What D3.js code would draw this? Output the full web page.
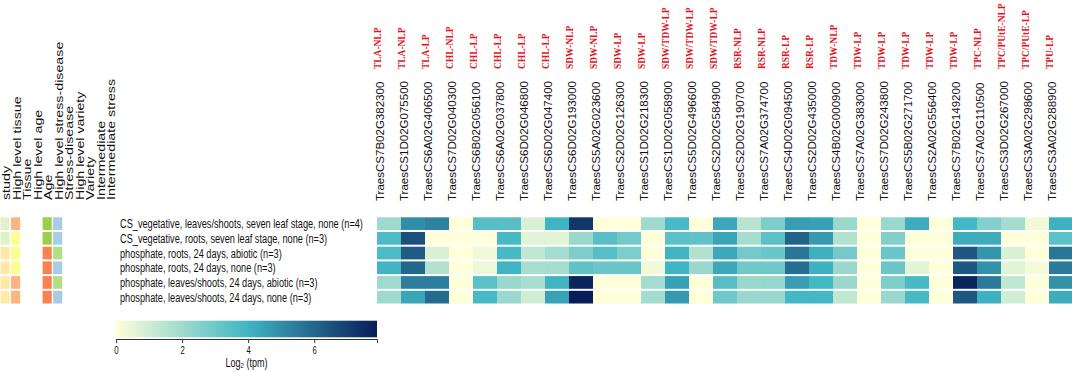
<!DOCTYPE html>
<html>
<head>
<meta charset="utf-8">
<script src="https://cdn.jsdelivr.net/npm/d3@7"></script>
<style>
  body { margin: 0; background: #fff; }
  svg { display: block; }
</style>
</head>
<body>
<div id="chart"></div>
<script>
// chart size
const width = 1072, height = 372

const genes = ["TraesCS7B02G382300", "TraesCS1D02G075500", "TraesCS6A02G406500", "TraesCS7D02G040300",
    "TraesCS6B02G056100", "TraesCS6A02G037800", "TraesCS6D02G046800", "TraesCS6D02G047400",
    "TraesCS6D02G193000", "TraesCS5A02G023600", "TraesCS2D02G126300", "TraesCS1D02G218300",
    "TraesCS1D02G058900", "TraesCS5D02G496600", "TraesCS2D02G584900", "TraesCS2D02G190700",
    "TraesCS7A02G374700", "TraesCS4D02G094500", "TraesCS2D02G435000", "TraesCS4B02G000900",
    "TraesCS7A02G383000", "TraesCS7D02G243800", "TraesCS5B02G271700", "TraesCS2A02G556400",
    "TraesCS7B02G149200", "TraesCS7A02G110500", "TraesCS3D02G267000", "TraesCS3A02G298600",
    "TraesCS3A02G288900"]

const traits = ["TLA-NLP", "TLA-NLP", "TLA-LP", "CHL-NLP", "CHL-LP", "CHL-LP", "CHL-LP", "CHL-LP",
    "SDW-NLP", "SDW-NLP", "SDW-LP", "SDW-LP", "SDW/TDW-LP", "SDW/TDW-LP", "SDW/TDW-LP",
    "RSR-NLP", "RSR-NLP", "RSR-LP", "RSR-LP", "TDW-NLP", "TDW-LP", "TDW-LP", "TDW-LP", "TDW-LP",
    "TDW-LP", "TPC-NLP", "TPC/PUtE-NLP", "TPC/PUtE-LP", "TPU-LP"]

const samples = ["CS_vegetative, leaves/shoots, seven leaf stage, none (n=4)",
    "CS_vegetative, roots, seven leaf stage, none (n=3)",
    "phosphate, roots, 24 days, abiotic (n=3)",
    "phosphate, roots, 24 days, none (n=3)",
    "phosphate, leaves/shoots, 24 days, abiotic (n=3)",
    "phosphate, leaves/shoots, 24 days, none (n=3)"]

// log2(tpm), one row per sample, one value per gene
const log2tpm = [
    [2.0, 5.0, 5.3, 0, 3.5, 3.5, 0.8, 4.0, 7.2, 0, 0, 2.0, 3.8, 0, 4.3, 1.5, 2.7, 4.6, 4.5, 2.1, 0, 2.1, 4.2, 0, 3.9, 2.6, 1.9, 0.3, 4.1],
    [3.7, 6.6, 0, 0, 0, 3.8, 0.6, 0.6, 2.1, 3.5, 2.9, 0, 3.4, 3.3, 4.4, 1.9, 3.4, 6.1, 4.7, 1.6, 0, 2.6, 0, 0, 4.2, 4.2, 0, 0, 3.4],
    [3.7, 6.3, 0.8, 0, 0.3, 3.8, 1.3, 1.9, 2.7, 3.5, 2.7, 0, 4.0, 1.6, 4.3, 2.9, 3.1, 5.6, 4.1, 2.9, 0, 3.1, 0, 0, 6.4, 4.8, 0.8, 0, 5.6],
    [4.0, 6.0, 1.6, 0, 0.4, 4.0, 1.8, 1.9, 3.3, 3.1, 3.1, 0.3, 4.0, 2.1, 4.3, 3.0, 3.0, 5.8, 4.1, 2.1, 0, 3.1, 0.6, 0, 6.4, 4.9, 0.6, 0.2, 5.5],
    [2.0, 5.4, 5.4, 0, 3.4, 2.1, 1.8, 4.0, 7.7, 0, 0, 1.9, 4.5, 0, 3.5, 2.1, 2.2, 4.6, 3.9, 2.1, 0, 2.7, 3.8, 0, 7.7, 5.5, 1.3, 0, 4.9],
    [2.0, 4.4, 5.9, 0, 3.8, 2.1, 1.0, 4.5, 7.9, 0, 0, 1.9, 4.7, 0, 3.0, 2.1, 2.1, 3.9, 3.9, 1.3, 0, 2.1, 3.8, 0, 6.4, 4.1, 1.0, 0, 4.2]
]

// sample annotation tracks
const annoNames = ["study", "High level tissue", "Tissue", "High level age", "Age",
    "High level stress-disease", "Stress-disease", "High level variety", "Variety",
    "Intermediate", "Intermediate stress"]
const study = ["CS_vegetative", "CS_vegetative", "phosphate", "phosphate", "phosphate", "phosphate"]
const highTissue = ["leaves/shoots", "roots", "roots", "roots", "leaves/shoots", "leaves/shoots"]
const age = ["seven leaf stage", "seven leaf stage", "24 days", "24 days", "24 days", "24 days"]
const highStress = ["none", "none", "abiotic", "none", "abiotic", "none"]

const colorTicks = [0, 2, 4, 6]
const colorMax = 7.9

const svg = d3.select("#chart").append("svg")
    .attr("width", width)
    .attr("height", height)

// scales
const x = d3.scaleBand().domain(d3.range(genes.length)).range([377, 1073])
const y = d3.scaleBand().domain(d3.range(samples.length)).range([217.3, 303.5]).paddingInner(0.136)
const xa = d3.scaleBand().domain(annoNames).range([0.5, 114.9]).paddingInner(0.13)

const color = d3.scaleLinear()
    .domain([0, colorMax / 2, colorMax])
    .range(["#ffffd9", "#41b6c4", "#081d58"])

const annoColors = {
    "study": d3.scaleOrdinal().domain(["CS_vegetative", "phosphate"]).range(["#e1f1cb", "#fee9a6"]),
    "High level tissue": d3.scaleOrdinal().domain(["leaves/shoots", "roots"]).range(["#fdb481", "#ffff8f"]),
    "Age": d3.scaleOrdinal().domain(["seven leaf stage", "24 days"]).range(["#9dce48", "#fc8052"]),
    "High level stress-disease": d3.scaleOrdinal().domain(["none", "abiotic"]).range(["#a6cde3", "#b2df8a"])
}
const annoData = {
    "study": study,
    "High level tissue": highTissue,
    "Age": age,
    "High level stress-disease": highStress
}

// heatmap cells
const cells = []
log2tpm.forEach(function (row, i) {
    row.forEach(function (v, j) { cells.push({ r: i, c: j, value: v }) })
})

svg.append("g").selectAll("rect")
    .data(cells)
    .join("rect")
    .attr("x", d => x(d.c))
    .attr("y", d => y(d.r))
    .attr("width", x.bandwidth() + 0.3)
    .attr("height", y.bandwidth())
    .attr("fill", d => color(d.value))

// annotation cells
Object.keys(annoData).forEach(function (name) {
    svg.append("g").selectAll("rect")
        .data(annoData[name])
        .join("rect")
        .attr("x", xa(name))
        .attr("y", (d, i) => y(i))
        .attr("width", xa.bandwidth())
        .attr("height", y.bandwidth())
        .attr("fill", d => annoColors[name](d))
})

// annotation names (rotated)
svg.append("g").selectAll("text")
    .data(annoNames)
    .join("text")
    .attr("transform", d => `translate(${xa(d) + xa.bandwidth() / 2 + 5},200) rotate(-90) scale(1.24,1)`)
    .style("font-family", "'Liberation Sans', Arial, sans-serif")
    .style("font-size", "11.5px")
    .attr("fill", "#111")
    .text(d => d)

// row labels: condensed so the longest one spans about 243px like the figure
const rowLabels = svg.append("g").selectAll("text")
    .data(samples)
    .join("text")
    .attr("dy", "0.36em")
    .style("font-family", "'Liberation Sans', Arial, sans-serif")
    .style("font-size", "12.5px")
    .attr("fill", "#111")
    .text(d => d)
const rowScale = 243 / rowLabels.node().getComputedTextLength()
rowLabels.attr("transform", (d, i) => `translate(120,${y(i) + y.bandwidth() / 2}) scale(${rowScale},1)`)

// gene labels
svg.append("g").selectAll("text")
    .data(genes)
    .join("text")
    .attr("transform", (d, i) => `translate(${x(i) + 7},201) rotate(-90) scale(1.13,1)`)
    .style("font-family", "'Liberation Sans', Arial, sans-serif")
    .style("font-size", "10.2px")
    .attr("fill", "#111")
    .text(d => d)

// trait labels in red
svg.append("g").selectAll("text")
    .data(traits)
    .join("text")
    .attr("transform", (d, i) => `translate(${x(i) + 3.8},69) rotate(-90) scale(0.9,1)`)
    .style("font-family", "'Liberation Serif', 'Times New Roman', serif")
    .style("font-weight", "bold")
    .style("font-size", "10.5px")
    .attr("fill", "#e3141c")
    .text(d => d)

// colour bar legend
const lx = d3.scaleLinear().domain([0, colorMax]).range([116, 377])
const defs = svg.append("defs")
const grad = defs.append("linearGradient").attr("id", "ramp")
grad.selectAll("stop")
    .data(d3.range(0, 1.0001, 0.05))
    .join("stop")
    .attr("offset", d => (d * 100) + "%")
    .attr("stop-color", d => color(d * colorMax))

svg.append("rect")
    .attr("x", lx(0))
    .attr("y", 320.7)
    .attr("width", lx(colorMax) - lx(0))
    .attr("height", 16.6)
    .style("fill", "url(#ramp)")

const axis = svg.append("g")
    .attr("transform", "translate(0,339)")
    .call(d3.axisBottom(lx).tickValues(colorTicks).tickSize(4).tickSizeOuter(4).tickFormat(d3.format("d")))
axis.select(".domain").attr("stroke", "#333")
axis.selectAll(".tick line").attr("stroke", "#333")
axis.selectAll(".tick text")
    .attr("y", 7)
    .attr("transform", "scale(0.7,1)")
    .style("font-family", "'Liberation Sans', Arial, sans-serif")
    .style("font-size", "11px")
    .attr("fill", "#111")

const title = svg.append("text")
    .attr("transform", `translate(${lx(colorMax / 2)},367) scale(0.75,1)`)
    .attr("text-anchor", "middle")
    .style("font-family", "'Liberation Sans', Arial, sans-serif")
    .style("font-size", "12px")
    .attr("fill", "#111")
title.append("tspan").text("Log")
title.append("tspan").attr("font-size", "8px").attr("dy", "1").text("2")
title.append("tspan").attr("dy", "-1").text(" (tpm)")
</script>
</body>
</html>
